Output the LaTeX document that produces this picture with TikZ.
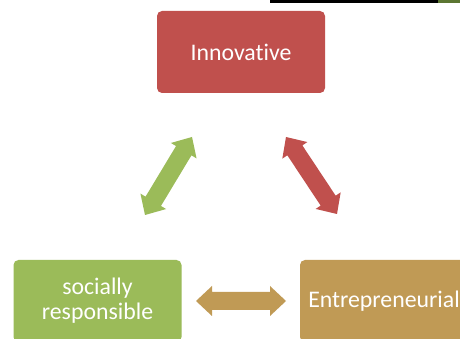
\documentclass[tikz,border=0pt]{standalone}
\usepackage{fontspec}
\setmainfont{Carlito}[Ligatures={NoCommon}]
\usetikzlibrary{calc}
\definecolor{cred}{HTML}{C0504D}
\definecolor{cgreen}{HTML}{9BBB59}
\definecolor{ctan}{HTML}{C09A55}
\definecolor{colive}{HTML}{5C7632}
\tikzset{
  box/.style={rounded corners=5pt, minimum width=168pt, minimum height=82pt,
    inner sep=2pt, text=white, align=center,
    font=\fontsize{23.8}{25}\selectfont},
}
\newcommand\blockdarrow[3]{%
  \fill[#3] (#1)
   -- ($(#1)!16pt!(#2)!15pt!90:(#2)$)
   -- ($(#1)!16pt!(#2)!9pt!90:(#2)$)
   -- ($(#2)!16pt!(#1)!9pt!-90:(#1)$)
   -- ($(#2)!16pt!(#1)!15pt!-90:(#1)$)
   -- (#2)
   -- ($(#2)!16pt!(#1)!15pt!90:(#1)$)
   -- ($(#2)!16pt!(#1)!9pt!90:(#1)$)
   -- ($(#1)!16pt!(#2)!9pt!-90:(#2)$)
   -- ($(#1)!16pt!(#2)!15pt!-90:(#2)$)
   -- cycle;}
\begin{document}
\begin{tikzpicture}[x=1pt,y=1pt]
\useasboundingbox (0,0) rectangle (460,339);
\clip (0,0) rectangle (460,339);
\fill[white] (0,0) rectangle (460,339);
% top bar
\fill[black] (270,336) rectangle (438,339);
\fill[colive] (438,336) rectangle (460,339);
% boxes
\node[box, fill=cred] (inno) at (241,287) {Innovative};
\node[box, fill=cgreen] (soc) at (97.5,38) {socially\\responsible};
\node[box, fill=ctan] (ent) at (384,38) {Entrepreneurial};
% arrow end coordinates
\coordinate (g1) at (145,124);
\coordinate (g2) at (192,202);
\coordinate (r1) at (286,202);
\coordinate (r2) at (337,125);
\coordinate (t1) at (196,38);
\coordinate (t2) at (286,38);
\blockdarrow{g1}{g2}{cgreen}
\blockdarrow{r1}{r2}{cred}
\blockdarrow{t1}{t2}{ctan}
\end{tikzpicture}
\end{document}
